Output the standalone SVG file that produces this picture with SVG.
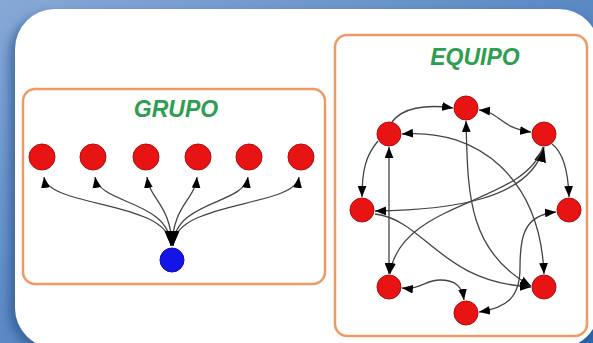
<svg xmlns="http://www.w3.org/2000/svg" width="593" height="343" viewBox="0 0 593 343">
  <defs>
    <linearGradient id="bg" x1="0" y1="0" x2="1" y2="1">
      <stop offset="0" stop-color="#86a8d6"/>
      <stop offset="0.45" stop-color="#5f8cc6"/>
      <stop offset="1" stop-color="#2f6aae"/>
    </linearGradient>
    <filter id="shadow" x="-10%" y="-10%" width="120%" height="120%">
      <feGaussianBlur stdDeviation="5"/>
    </filter>
    <marker id="arr" viewBox="0 0 10 8" refX="10" refY="4" markerWidth="11" markerHeight="9" markerUnits="userSpaceOnUse" orient="auto-start-reverse">
      <path d="M0,0 L10,4 L0,8 z" fill="#000"/>
    </marker>
    <marker id="arrs" viewBox="0 0 10 8" refX="10" refY="4" markerWidth="11" markerHeight="9" markerUnits="userSpaceOnUse" orient="auto-start-reverse">
      <path d="M0,0 L10,4 L0,8 z" fill="#000"/>
    </marker>
    <marker id="arrb" viewBox="0 0 10 8" refX="10" refY="4" markerWidth="15" markerHeight="13" markerUnits="userSpaceOnUse" orient="auto-start-reverse">
      <path d="M0,0 L10,4 L0,8 z" fill="#000"/>
    </marker>
    <marker id="arrbl" viewBox="0 0 10 8" refX="10" refY="4" markerWidth="15" markerHeight="19" markerUnits="userSpaceOnUse" orient="auto-start-reverse">
      <path d="M0,0 L10,4 L0,8 z" fill="#000"/>
    </marker>
  </defs>
  <style>
    .box { fill: none; stroke: #ee9a64; stroke-width: 2.5; }
    .title { font-family: "Liberation Sans", Arial, sans-serif; font-weight: bold; font-style: italic; font-size: 23px; fill: #2e9e50; text-anchor: middle; }
    .red { fill: #e81414; stroke: #b30d0d; stroke-width: 1; }
    .blue { fill: #1414e6; stroke: #0b0bb0; stroke-width: 1; }
    .e { fill: none; stroke: #444; stroke-width: 1.3; }
  </style>

  <rect width="593" height="343" fill="url(#bg)"/>
  <rect x="9" y="14" width="590" height="338" rx="40" fill="#1d4a82" opacity="0.55" filter="url(#shadow)"/>
  <rect x="15" y="9" width="584" height="339" rx="40" fill="#ffffff"/>

  <g id="grupo-box">
    <rect class="box" x="23" y="89" width="302" height="195" rx="12"/>
    <text class="title" x="176" y="117">GRUPO</text>
  </g>
  <g id="equipo-box">
    <rect class="box" x="335" y="35" width="252" height="301" rx="12"/>
    <text class="title" x="475" y="65">EQUIPO</text>
  </g>

  <g id="connectors">
    <!-- GRUPO star -->
    <path class="e" d="M44,177 C48,208 170,200 171,246" marker-start="url(#arrs)" marker-end="url(#arrbl)"/>
    <path class="e" d="M95,177 C100,205 170,200 171,246" marker-start="url(#arrs)" marker-end="url(#arrbl)"/>
    <path class="e" d="M147,177 C150,200 171,205 172,246" marker-start="url(#arrs)" marker-end="url(#arrbl)"/>
    <path class="e" d="M197,177 C195,200 173,205 172,246" marker-start="url(#arrs)" marker-end="url(#arrbl)"/>
    <path class="e" d="M248,177 C244,205 174,200 173,246" marker-start="url(#arrs)" marker-end="url(#arrbl)"/>
    <path class="e" d="M299,177 C295,208 174,200 173,246" marker-start="url(#arrs)" marker-end="url(#arrbl)"/>

    <!-- EQUIPO network -->
    <path class="e" d="M392,122 C402,108 425,104 453,108" marker-end="url(#arr)"/>
    <path class="e" d="M479,110 C500,112 500,128 531,132" marker-start="url(#arr)" marker-end="url(#arr)"/>
    <path class="e" d="M378,141 C366,155 362,170 362,197" marker-end="url(#arr)"/>
    <path class="e" d="M389,147 L389,274" marker-start="url(#arr)" marker-end="url(#arr)"/>
    <path class="e" d="M466,121 C468,190 466,250 531,286" marker-start="url(#arr)" marker-end="url(#arr)"/>
    <path class="e" d="M402,134 C480,128 540,180 544,274" marker-start="url(#arr)" marker-end="url(#arr)"/>
    <path class="e" d="M544,147 C530,200 450,210 375,211" marker-start="url(#arrb)" marker-end="url(#arr)"/>
    <path class="e" d="M543,147 C525,205 400,200 390,274" marker-end="url(#arr)"/>
    <path class="e" d="M552,144 C560,150 568,165 569,197" marker-end="url(#arr)"/>
    <path class="e" d="M556,212 C522,215 520,240 520,268 C520,298 506,308 479,312" marker-start="url(#arr)" marker-end="url(#arr)"/>
    <path class="e" d="M402,288 C420,290 425,280 440,280 C455,280 462,286 464,300" marker-start="url(#arr)" marker-end="url(#arr)"/>
    <path class="e" d="M375,214 C425,220 440,282 531,287" marker-end="url(#arr)"/>
  </g>

  <g id="g1"><circle class="red" cx="42" cy="157" r="13"/></g>
  <g id="g2"><circle class="red" cx="93" cy="157" r="13"/></g>
  <g id="g3"><circle class="red" cx="146" cy="157" r="13"/></g>
  <g id="g4"><circle class="red" cx="198" cy="157" r="13"/></g>
  <g id="g5"><circle class="red" cx="249" cy="157" r="13"/></g>
  <g id="g6"><circle class="red" cx="301" cy="157" r="13"/></g>
  <g id="gb"><circle class="blue" cx="172" cy="260" r="12"/></g>

  <g id="eT"><circle class="red" cx="466" cy="108" r="12"/></g>
  <g id="eUL"><circle class="red" cx="389" cy="134" r="12"/></g>
  <g id="eUR"><circle class="red" cx="544" cy="134" r="12"/></g>
  <g id="eL"><circle class="red" cx="362" cy="210" r="12"/></g>
  <g id="eR"><circle class="red" cx="569" cy="210" r="12"/></g>
  <g id="eLL"><circle class="red" cx="389" cy="287" r="12"/></g>
  <g id="eLR"><circle class="red" cx="544" cy="287" r="12"/></g>
  <g id="eB"><circle class="red" cx="466" cy="313" r="12"/></g>
</svg>
